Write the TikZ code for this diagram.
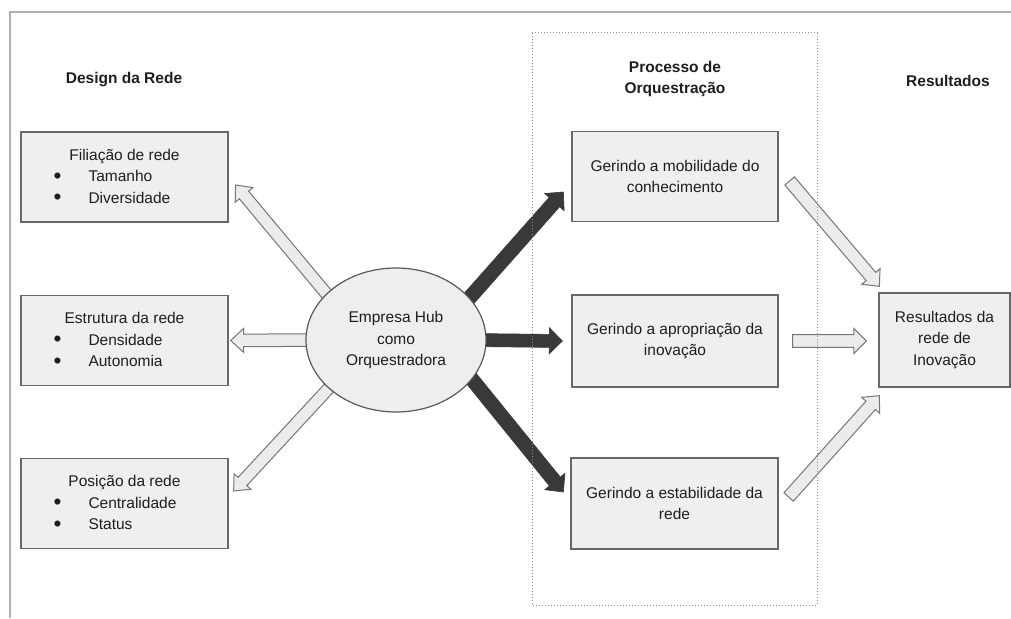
\documentclass[tikz,border=0pt]{standalone}
\usepackage{fontspec}
\setmainfont{Liberation Sans}
\usetikzlibrary{calc,shapes.geometric}

\definecolor{framegray}{HTML}{B0B0B0}
\definecolor{boxfill}{HTML}{EFEFEF}
\definecolor{boxline}{HTML}{686868}
\definecolor{hubfill}{HTML}{EEEEEE}
\definecolor{hollowfill}{HTML}{ECECEC}
\definecolor{hollowline}{HTML}{767676}
\definecolor{darkarrow}{HTML}{393939}
\definecolor{dotgray}{HTML}{8C8C8C}
\definecolor{textcol}{HTML}{1E1E1E}

% one line of a bulleted list inside a box
\newcommand{\listbullet}{\raisebox{-1.6pt}{\scalebox{1.45}{\textbullet}}}
\newcommand{\listline}[1]{\makebox[142pt][l]{\makebox[35pt][l]{\listbullet}#1}}

% block arrow: #1 style, #2 start, #3 tip, #4 shaft half width,
% #5 head half width, #6 head length
\newcommand{\blockarrow}[6]{%
  \coordinate (ba-h) at ($(#3)!#6!(#2)$);
  \draw[#1] ($(#2)!#4!90:(#3)$) -- ($(ba-h)!#4!90:(#3)$)
    -- ($(ba-h)!#5!90:(#3)$) -- (#3) -- ($(ba-h)!#5!-90:(#3)$)
    -- ($(ba-h)!#4!-90:(#3)$) -- ($(#2)!#4!-90:(#3)$) -- cycle;
}

\begin{document}
\begin{tikzpicture}[x=1pt,y=-1pt,
  txt/.style={text=textcol, font=\fontsize{15.5}{21.5}\selectfont, align=center},
  heading/.style={txt, font=\fontsize{15.5}{21.5}\selectfont\bfseries},
  box/.style={txt, draw=boxline, fill=boxfill, line width=1.3pt,
    minimum width=207pt, minimum height=90pt, inner sep=0pt},
  hub/.style={txt, ellipse, draw=boxline!85!black, fill=hubfill, line width=1.2pt,
    minimum width=180pt, minimum height=144pt, inner sep=0pt},
  hollow/.style={fill=hollowfill, draw=hollowline, line width=1pt, line join=miter},
  dark/.style={fill=darkarrow, draw=darkarrow, line width=0.6pt, line join=miter},
  zone/.style={draw=dotgray, line width=1pt, dash pattern=on 1.2pt off 1.8pt}
]
\useasboundingbox (0,0) rectangle (1011,618);
\fill[white] (0,0) rectangle (1011,618);

% outer frame (top and left edges)
\draw[framegray, line width=2.2pt] (10,618) -- (10,12) -- (1011,12);

% column headings
\node[heading] (hdesign) at (124,80) {Design da Rede};
\node[heading] (hproc) at (675,79) {Processo de\\Orquestração};
\node[heading] (hres) at (948,81) {Resultados};

% network design boxes
\node[box] (f1) at (124.5,177) {Filiação de rede\\\listline{Tamanho}\\\listline{Diversidade}};
\node[box] (f2) at (124.5,340.5) {Estrutura da rede\\\listline{Densidade}\\\listline{Autonomia}};
\node[box] (f3) at (124.5,503.5) {Posição da rede\\\listline{Centralidade}\\\listline{Status}};

% orchestration process boxes
\node[box, minimum width=206pt] (g1) at (675,176.5) {Gerindo a mobilidade do\\conhecimento};
\node[box, minimum width=206pt, minimum height=92pt] (g2) at (675,341) {Gerindo a apropriação da\\inovação};
\node[box, minimum width=207pt, minimum height=91pt] (g3) at (674.5,503.5) {Gerindo a estabilidade da\\rede};

% outcome box
\node[box, minimum width=131pt, minimum height=94pt] (res) at (944.5,340) {Resultados da\\rede de\\Inovação};

% hub node position and arrow end points
\coordinate (hubc) at (396,340);
\coordinate (sUL) at ($(hubc)+(-56,-30)$);
\coordinate (sML) at ($(hubc)+(-76,0)$);
\coordinate (sLL) at ($(hubc)+(-55,35)$);
\coordinate (sUR) at ($(hubc)+(61,-28)$);
\coordinate (sMR) at ($(hubc)+(74,0)$);
\coordinate (sLR) at ($(hubc)+(66,27)$);

\coordinate (tF1) at ($(f1.east)+(7,8)$);
\coordinate (tF2) at ($(f2.east)+(2,0)$);
\coordinate (tF3) at ($(f3.east)+(5,-12.5)$);
\coordinate (tG1) at ($(g1.west)+(-8,15.5)$);
\coordinate (tG2) at ($(g2.west)+(-9,0)$);
\coordinate (tG3) at ($(g3.west)+(-7,-11.5)$);

\coordinate (sR1) at ($(g1.east)+(11,4.5)$);
\coordinate (sR2) at ($(g2.east)+(14,0)$);
\coordinate (sR3) at ($(g3.east)+(10,-6.5)$);
\coordinate (tR1) at ($(res.north west)+(1,-6)$);
\coordinate (tR2) at ($(res.west)+(-12,1)$);
\coordinate (tR3) at ($(res.south west)+(1,8)$);

% hub towards network design
\blockarrow{hollow}{sUL}{tF1}{6pt}{11.5pt}{13pt}
\blockarrow{hollow}{sML}{tF2}{6.3pt}{12pt}{13pt}
\blockarrow{hollow}{sLL}{tF3}{6pt}{11.5pt}{13pt}

% hub towards orchestration processes
\blockarrow{dark}{sUR}{tG1}{7pt}{13pt}{13.5pt}
\blockarrow{dark}{sMR}{tG2}{6.5pt}{13pt}{13pt}
\blockarrow{dark}{sLR}{tG3}{7pt}{13pt}{13.5pt}

% processes towards outcomes
\blockarrow{hollow}{sR1}{tR1}{6.3pt}{12pt}{13pt}
\blockarrow{hollow}{sR2}{tR2}{6.3pt}{12.5pt}{12.5pt}
\blockarrow{hollow}{sR3}{tR3}{6.3pt}{12pt}{13pt}

% orchestrating hub
\node[hub] (hub) at (hubc) {Empresa Hub\\como\\Orquestradora};

% dotted zone around the orchestration process
\draw[zone] (532,33) rectangle (817,605);
\end{tikzpicture}
\end{document}
